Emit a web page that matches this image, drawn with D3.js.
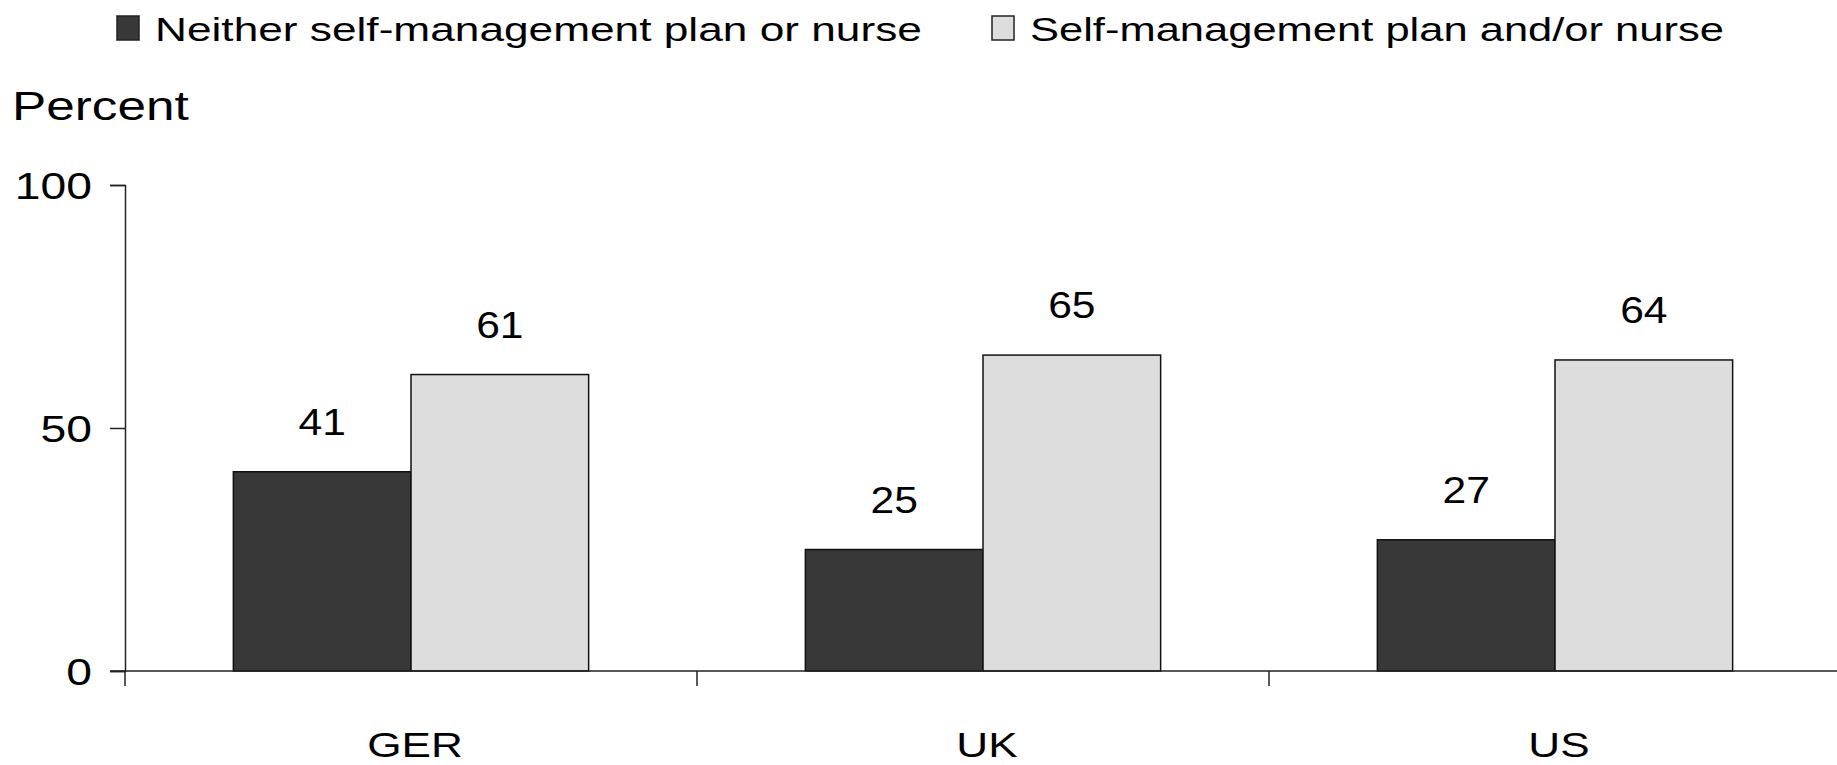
<!DOCTYPE html>
<html>
<head>
<meta charset="utf-8">
<script src="https://cdn.jsdelivr.net/npm/d3@7"></script>
<style>
  html, body { margin: 0; padding: 0; background: #fff; }
  svg { display: block; }
  text { font-family: "Liberation Sans", Arial, sans-serif; fill: #000; }
</style>
</head>
<body>
<svg id="chart" width="1837" height="765"></svg>
<script>
const categories = ["GER", "UK", "US"];
const seriesNames = ["Neither self-management plan or nurse", "Self-management plan and/or nurse"];
const neitherValues = [41, 25, 27];
const planOrNurseValues = [61, 65, 64];
const yTicks = [0, 50, 100];
const yAxisTitle = "Percent";

const colors = ["#383838", "#dddddd"];
const seriesValues = [neitherValues, planOrNurseValues];

const svg = d3.select("#chart");
const W = 1837, H = 765;
const margin = { left: 125 };

const x = d3.scaleBand().domain(categories).range([margin.left, 1841]).paddingInner(0).paddingOuter(0);
const xs = d3.scaleBand().domain(d3.range(seriesNames.length)).range([0, x.bandwidth()]).paddingInner(0).paddingOuter(0.61);
const y = d3.scaleLinear().domain([0, 100]).range([671, 185]);

const stretch = (sel, k) => sel.each(function (d, i) {
  const f = Array.isArray(k) ? k[i] : k;
  const len = this.getComputedTextLength();
  d3.select(this).attr("textLength", len * f).attr("lengthAdjust", "spacingAndGlyphs");
});

// Bars
categories.forEach((c, ci) => {
  seriesValues.forEach((vals, si) => {
    svg.append("rect")
      .attr("x", x(c) + xs(si))
      .attr("y", y(vals[ci]))
      .attr("width", xs.bandwidth())
      .attr("height", y(0) - y(vals[ci]))
      .attr("fill", colors[si])
      .attr("stroke", "#111")
      .attr("stroke-width", 1.5);
  });
});

// Value labels
const valLabels = svg.append("g");
categories.forEach((c, ci) => {
  seriesValues.forEach((vals, si) => {
    valLabels.append("text")
      .attr("x", x(c) + xs(si) + xs.bandwidth() / 2)
      .attr("y", y(vals[ci]) - 37)
      .attr("text-anchor", "middle")
      .attr("font-size", 37)
      .text(vals[ci]);
  });
});
stretch(valLabels.selectAll("text"), 1.15);

// Y axis
const yAxis = d3.axisLeft(y).tickValues(yTicks).tickSize(15).tickPadding(18).tickFormat(d3.format("d"));
const yg = svg.append("g").attr("transform", `translate(${margin.left},0)`).call(yAxis);
yg.select(".domain").attr("stroke", "#222").attr("stroke-width", 1.5);
yg.selectAll(".tick line").attr("stroke", "#222").attr("stroke-width", 1.5);
yg.selectAll(".tick text").attr("font-size", 37).attr("font-family", "Liberation Sans, Arial, sans-serif").attr("fill", "#000").attr("dy", "0.36em");
stretch(yg.selectAll(".tick text"), 1.25);

// X axis baseline (extends with 0-tick)
svg.append("line")
  .attr("x1", margin.left - 15).attr("x2", W)
  .attr("y1", y(0)).attr("y2", y(0))
  .attr("stroke", "#222").attr("stroke-width", 1.5);

// Category separator ticks
const sepTicks = categories.map(c => x(c));
svg.selectAll(".sep").data(sepTicks).enter().append("line")
  .attr("x1", d => d).attr("x2", d => d)
  .attr("y1", y(0)).attr("y2", y(0) + 15)
  .attr("stroke", "#222").attr("stroke-width", 1.5);

// Category labels
const catG = svg.append("g");
catG.selectAll("text").data(categories).enter().append("text")
  .attr("x", d => x(d) + x.bandwidth() / 2 + 4)
  .attr("y", 757)
  .attr("text-anchor", "middle")
  .attr("font-size", 35)
  .text(d => d);
stretch(catG.selectAll("text"), 1.26);

// Y axis title
const yt = svg.append("text")
  .attr("x", 12).attr("y", 120)
  .attr("font-size", 41)
  .text(yAxisTitle);
stretch(yt, 1.25);

// Legend
const legendX = [117, 992];
const lg = svg.append("g");
seriesNames.forEach((name, i) => {
  lg.append("rect")
    .attr("x", legendX[i]).attr("y", 16)
    .attr("width", 22).attr("height", 24)
    .attr("fill", colors[i])
    .attr("stroke", "#222").attr("stroke-width", 1.5);
  lg.append("text")
    .attr("class", "legtext")
    .attr("x", legendX[i] + 38).attr("y", 41)
    .attr("font-size", 33)
    .text(name);
});
stretch(lg.selectAll(".legtext"), [1.34, 1.318]);
</script>
</body>
</html>
